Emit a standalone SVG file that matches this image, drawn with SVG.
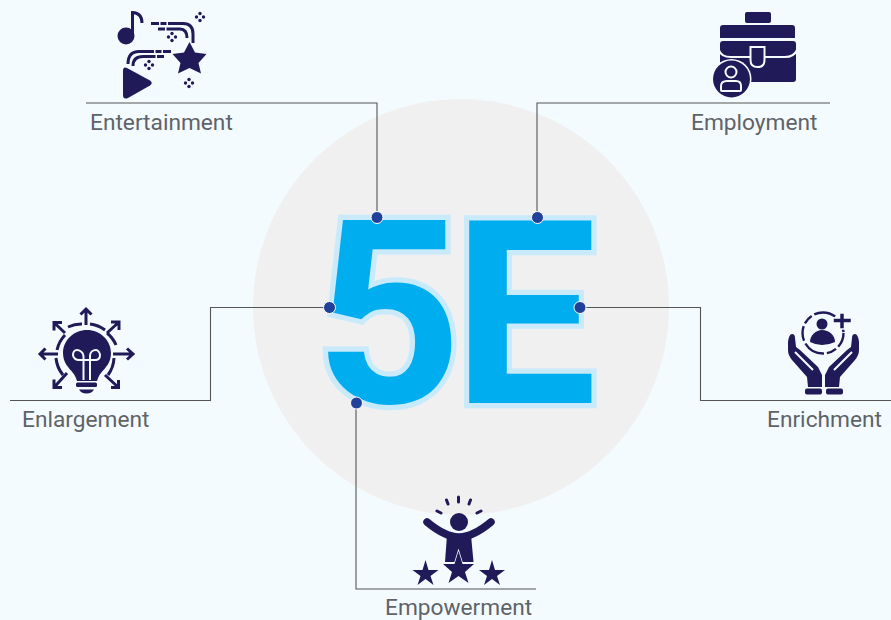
<svg xmlns="http://www.w3.org/2000/svg" width="891" height="620" viewBox="0 0 891 620">
<style>
.lbl{font-family:Roboto,"Liberation Sans",sans-serif;font-size:22.7px;fill:#5f6368}
.big{font-family:Roboto,"Liberation Sans",sans-serif;font-weight:700;font-size:256px;fill:#00aeef;stroke:#c8eafb;stroke-width:10.500px;paint-order:stroke;stroke-linejoin:miter;stroke-miterlimit:4}
.ln{fill:none;stroke:#555;stroke-width:1.100}
.dot{fill:#20409a;stroke:#fff;stroke-width:1}
.ic{fill:#211a58}
.st{fill:none;stroke:#211a58;stroke-width:3}
.cut{fill:none;stroke:#f4fbff;stroke-width:2}
</style>
<defs>
<g id="spark" class="ic"><circle cx="0" cy="-3.500" r="1.700"/><circle cx="0" cy="3.500" r="1.700"/><circle cx="-3.500" cy="0" r="1.700"/><circle cx="3.500" cy="0" r="1.700"/></g>
</defs>
<rect width="891" height="620" fill="#f4fbff"/>
<circle cx="461" cy="307" r="208" fill="#f0f0f0"/>
<g id="title"><text class="big" x="315 453" y="403">5E</text></g>
<g id="connectors">
<path class="ln" d="M86 103H377V217"/>
<path class="ln" d="M830 103H537V217"/>
<path class="ln" d="M10 400.500H210.500V307.500H329"/>
<path class="ln" d="M891 400.500H700.500V307.500H580"/>
<path class="ln" d="M536 589H356V403"/>
<circle class="dot" cx="377" cy="217.500" r="6"/>
<circle class="dot" cx="537.500" cy="217.500" r="6"/>
<circle class="dot" cx="329.500" cy="307.500" r="6"/>
<circle class="dot" cx="580" cy="307.500" r="6"/>
<circle class="dot" cx="356.500" cy="403" r="6"/>
</g>
<g id="entertainment">
<circle class="ic" cx="126" cy="36" r="8.500"/>
<path class="st" d="M132.500 36V12.500Q142 13 142 23"/>
<path class="st" stroke-dasharray="8 1.500 6 1.500 60" d="M151 23.500H183Q193 23.500 193 34V43"/>
<path class="st" stroke-dasharray="7 1.500 40" d="M158 29H180Q187 29 187 38"/>
<path class="st" stroke-dasharray="8 1.500 6 1.500 60" d="M171 51.500H139Q128 51.500 128 64"/>
<path class="st" stroke-dasharray="7 1.500 40" d="M164 56.500H143Q133 56.500 133 66"/>
<path class="ic" d="M189.500 42L195 52.500L206.500 54L198.500 63L201 73.500L189.500 68L178 73.500L180.500 63L172.500 54L184 52.500Z"/>
<path class="ic" d="M123 71Q123 66 127 68L150 80.500Q153.500 83 150 85.500L128 98Q123 100 123 95Z"/>
<use href="#spark" x="200" y="17"/>
<use href="#spark" x="172" y="37"/>
<use href="#spark" x="149" y="65"/>
<use href="#spark" x="189" y="83"/>
</g>
<g id="employment">
<rect class="ic" x="745" y="12" width="26" height="11" rx="2"/>
<path class="ic" d="M723 25H792Q795 25 795 28V38H720V28Q720 25 723 25Z"/>
<rect class="ic" x="720" y="41" width="76" height="41" rx="3"/>
<path class="cut" d="M719 50Q721 57 731 57H750M765 57H785Q794 57 797 50"/>
<path class="ic" stroke="#f4fbff" stroke-width="2" d="M750.500 47H764.500V60Q764.500 67 757.500 67Q750.500 67 750.500 60Z"/>
<circle cx="731.500" cy="79" r="20" fill="#f4fbff"/>
<circle class="ic" cx="731.500" cy="79" r="18.500"/>
<circle cx="731" cy="72" r="5.500" fill="none" stroke="#f4fbff" stroke-width="2"/>
<path fill="none" stroke="#f4fbff" stroke-width="2" d="M721 90V86Q721 81 727 81H736Q741 81 741 86V90Q741 91 740 91H722Q721 91 721 90Z"/>
</g>
<g id="enlargement">
<path class="ic" d="M87 330C100 330 111 340 111 353C111 363 105 368 101 373C99 375 98 378 97 381H77C76 378 75 375 73 373C69 368 63 363 63 353C63 340 74 330 87 330Z"/>
<path fill="none" stroke="#f4fbff" stroke-width="2" d="M83.500 380V356C83.500 352 79 350 77 350C74 350 73 353 73 355C73 358 76 360 79 360H95C98 360 100 358 100 355C100 353 98 350 96 350C93 350 90 352 90 356V380"/>
<rect class="ic" x="76" y="382.500" width="21" height="4.500" rx="1.500"/>
<path class="ic" d="M79 389.500H94Q92 393.500 86.500 393.500Q81 393.500 79 389.500Z"/>
<path class="st" stroke-width="2.600" d="M68 327A31 31 0 0 1 82 324M90 324A31 31 0 0 1 105 330M107 333A31 31 0 0 1 116 345M114 358A31 31 0 0 1 108 375M65 335A31 31 0 0 0 57 350M56 358A31 31 0 0 0 63 375"/>
<path class="st" d="M86 325V309M80.500 314.500L86 309L91.500 314.500M107 333L119 322M111 322H119V330M113 354H132M127 348.500L133 354L127 359.500M105 375L118.500 387.500M118.500 380V387.500H111M65 333L54 322.500M54 330.500V322.500H62M58 354H40M45.500 348.500L40 354L45.500 359.500M67 373L54 387.500M54 379.500V387.500H62"/>
</g>
<g id="enrichment">
<circle cx="823" cy="333" r="20.500" fill="none" stroke="#211a58" stroke-width="2.400" stroke-dasharray="15 3 10 3 22 3"/>
<circle class="ic" cx="822" cy="324" r="5.500"/>
<path class="ic" d="M810 342C810 335 816 330 822 330C829 330 835 335 835 342Q829 345 822 345Q816 345 810 342Z"/>
<path class="ic" stroke="#f4fbff" stroke-width="1.500" d="M839.500 313H844.500V318H851.500V323H844.500V329H839.500V323H833V318H839.500Z"/>
<path class="ic" d="M788 342Q789 334 792 334Q795 334 795 338L796 347L800 350L818 367L822 375V387H808L807 377L792 360Q788 355 788 350Z"/>
<path class="ic" d="M859 342Q858 334 855 334Q852 334 852 338L851 347L847 350L829 367L825 375V387H839L840 377L855 360Q859 355 859 350Z"/>
<path class="cut" stroke-width="1.500" d="M795 352L813 370M852 352L834 370"/>
<rect class="ic" x="805" y="388.500" width="17" height="6" rx="2"/>
<rect class="ic" x="826" y="388.500" width="17" height="6" rx="2"/>
</g>
<g id="empowerment">
<circle class="ic" cx="459" cy="522" r="9"/>
<path d="M427 522Q445 537 459 537Q473 537 491 522" fill="none" stroke="#211a58" stroke-width="7.500" stroke-linecap="round"/>
<path class="ic" d="M447 535H471L473.500 562H445Z"/>
<path class="st" stroke-linecap="round" stroke-width="1.800" d="M458.500 497V502M446.500 500L448 504M470.500 500L469 504M437 511L441 513M481 511L477 513"/>
<path class="ic" d="M425.500 560L428.500 570H438.500L430.500 576L433.500 585L425.500 579L417.500 585L420.500 576L412.500 570H422.500Z"/>
<path class="ic" stroke="#f4fbff" stroke-width="1.500" paint-order="stroke" d="M458.500 551L462.500 564H474L465 572L468.500 583L458.500 576L448.500 583L452 572L443 564H454.500Z"/>
<path class="ic" d="M492 560L495 570H505L497 576L500 585L492 579L484 585L487 576L479 570H489Z"/>
</g>
<text class="lbl" x="90" y="130">Entertainment</text>
<text class="lbl" x="691" y="130">Employment</text>
<text class="lbl" x="22" y="427">Enlargement</text>
<text class="lbl" x="767" y="427">Enrichment</text>
<text class="lbl" x="385" y="615">Empowerment</text>
</svg>
